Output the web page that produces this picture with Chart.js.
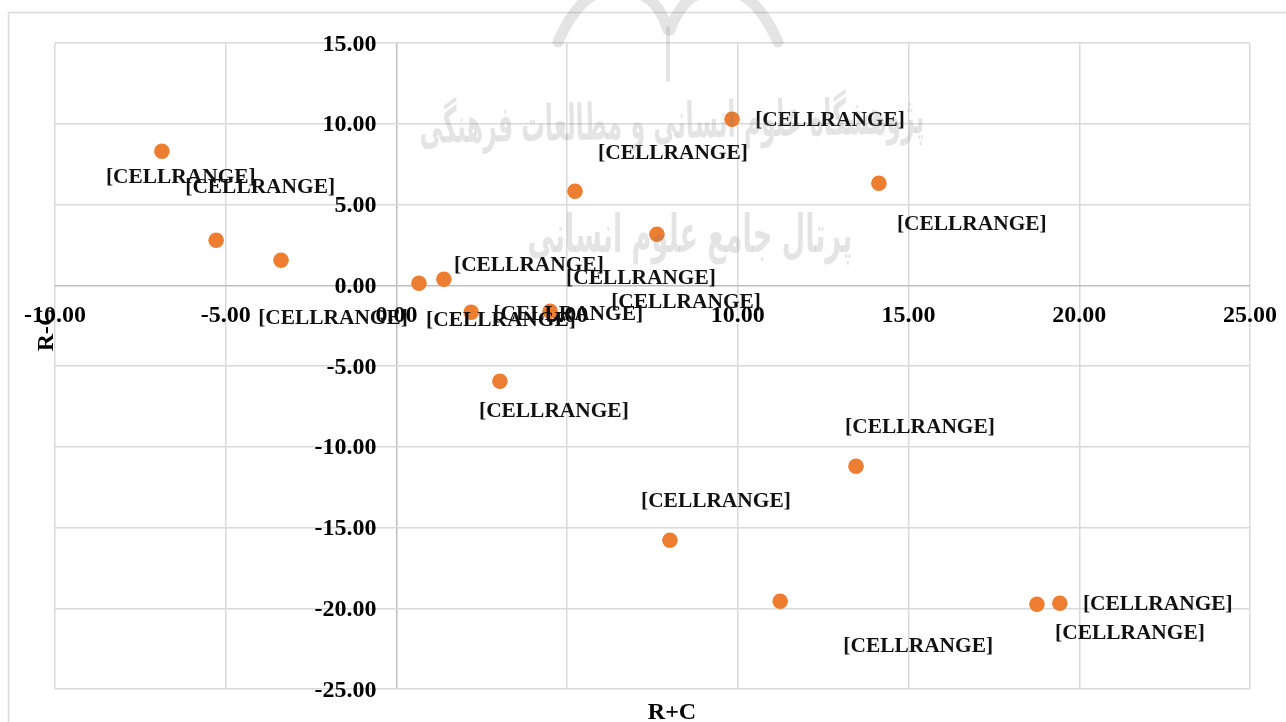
<!DOCTYPE html>
<html>
<head>
<meta charset="utf-8">
<style>
  html, body { margin: 0; padding: 0; background: #fff; overflow: hidden; }
  #box { position: absolute; left: 0; top: 0; width: 1286px; height: 722px; }
</style>
<script src="https://cdn.jsdelivr.net/npm/chart.js@4"></script>
</head>
<body>
<div id="box"><canvas id="myChart"></canvas></div>
<script>
// values
var rPlusC = [-6.87, -5.28, -3.38, 0.66, 1.39, 2.19, 4.50, 5.23, 7.63, 9.83, 14.13, 3.03, 13.46, 8.01, 11.24, 18.76, 19.43];
var rMinusC = [8.30, 2.79, 1.55, 0.12, 0.37, -1.67, -1.61, 5.82, 3.16, 10.28, 6.32, -5.94, -11.21, -15.79, -19.57, -19.75, -19.69];
var pointLabel = '[CELLRANGE]';
var xTitle = 'R+C';
var yTitle = 'R-C';
var watermarkLines = ['پژوهشگاه علوم انسانی و مطالعات فرهنگی', 'پرتال جامع علوم انسانی'];

// label centre relative to its point, in pixels
var labelOffsetX = [19, 44, 52, 82, 85, 97, 136, 98, -16, 98, 93, 54, 64, 46, 138, 93, 98];
var labelOffsetY = [26, -53, 58, 37, -14, 2, -9, -38, 44, 1, 41, 30, -39, -39, 45, 29, 1];

var serif = '"Liberation Serif", "Times New Roman", serif';
var points = rPlusC.map(function (v, i) { return { x: v, y: rMinusC[i] }; });

// outer frame of the chart, runs off the right and bottom of the page
var framePlugin = {
    id: 'frame',
    beforeDraw: function (chart) {
        var c = chart.ctx;
        c.save();
        c.strokeStyle = '#d9d9d9';
        c.lineWidth = 1.5;
        c.strokeRect(8.5, 12.5, 1400, 800);
        c.restore();
    }
};

var labelPlugin = {
    id: 'cellLabels',
    afterDatasetsDraw: function (chart) {
        var c = chart.ctx;
        var meta = chart.getDatasetMeta(0);
        c.save();
        c.font = 'bold 21.4px ' + serif;
        c.fillStyle = '#111';
        c.textAlign = 'center';
        c.textBaseline = 'middle';
        meta.data.forEach(function (el, i) {
            c.fillText(pointLabel, el.x + labelOffsetX[i], el.y + labelOffsetY[i]);
        });
        // axis titles sit off-centre in the original
        c.font = 'bold 24px ' + serif;
        c.fillStyle = '#000';
        c.fillText(xTitle, 672, 713);
        c.translate(47, 330);
        c.rotate(-Math.PI / 2);
        c.fillText(yTitle, 0, 0);
        c.restore();
    }
};

// pale scan watermark lying over everything
var watermarkPlugin = {
    id: 'watermark',
    afterDraw: function (chart) {
        var c = chart.ctx;
        c.save();
        c.fillStyle = 'rgba(120,120,120,0.2)';
        c.strokeStyle = 'rgba(120,120,120,0.2)';
        c.textAlign = 'center';
        c.textBaseline = 'middle';
        c.direction = 'rtl';
        c.font = 'bold 50px "DejaVu Sans"';
        c.save();
        c.translate(672, 125);
        c.rotate(-0.02);
        c.fillText(watermarkLines[0], 0, 0, 505);
        c.restore();
        c.font = 'bold 52px "DejaVu Sans"';
        c.fillText(watermarkLines[1], 690, 238, 325);
        // logo arcs at the top edge
        c.lineWidth = 11;
        c.lineCap = 'round';
        c.beginPath();
        c.moveTo(558, 42);
        c.quadraticCurveTo(585, -20, 625, -8);
        c.moveTo(668, 30);
        c.quadraticCurveTo(655, -10, 625, -8);
        c.moveTo(778, 42);
        c.quadraticCurveTo(750, -20, 712, -8);
        c.moveTo(670, 30);
        c.quadraticCurveTo(685, -10, 712, -8);
        c.stroke();
        c.lineWidth = 4;
        c.beginPath();
        c.moveTo(668, 28);
        c.lineTo(668, 80);
        c.stroke();
        c.restore();
    }
};

function gridColor(ctx) {
    return ctx.tick && ctx.tick.value === 0 ? '#bfbfbf' : '#d9d9d9';
}

var ctx = document.getElementById('myChart').getContext('2d');
var myChart = new Chart(ctx, {
    type: 'scatter',
    data: {
        datasets: [{
            label: 'R-C',
            data: points,
            backgroundColor: '#ed7d31',
            borderWidth: 0,
            pointRadius: 7.8,
            pointHoverRadius: 7.8
        }]
    },
    plugins: [framePlugin, labelPlugin, watermarkPlugin],
    options: {
        responsive: true,
        maintainAspectRatio: false,
        animation: false,
        layout: { padding: { left: 55, top: 43, right: 36, bottom: 33 } },
        plugins: { legend: { display: false }, tooltip: { enabled: false } },
        scales: {
            // both axes are parked just off zero so the tick labels clear the cross;
            // the zero lines come from the grids (ticks.padding would shrink the plot)
            x: {
                type: 'linear',
                position: { y: -1 },
                min: -10,
                max: 25,
                grid: { color: gridColor, lineWidth: 1.5, drawTicks: false },
                border: { display: false },
                ticks: {
                    stepSize: 5,
                    padding: 0,
                    maxRotation: 0,
                    color: '#000',
                    font: { family: serif, size: 24, weight: 'bold' },
                    callback: function (v) { return v.toFixed(2); }
                }
            },
            y: {
                type: 'linear',
                position: { x: -0.586 },
                min: -25,
                max: 15,
                grid: { color: gridColor, lineWidth: 1.5, drawTicks: false },
                border: { display: false },
                ticks: {
                    stepSize: 5,
                    labelOffset: 1.5,
                    color: '#000',
                    font: { family: serif, size: 24, weight: 'bold' },
                    callback: function (v) { return v.toFixed(2); }
                }
            }
        }
    }
});
</script>
</body>
</html>
